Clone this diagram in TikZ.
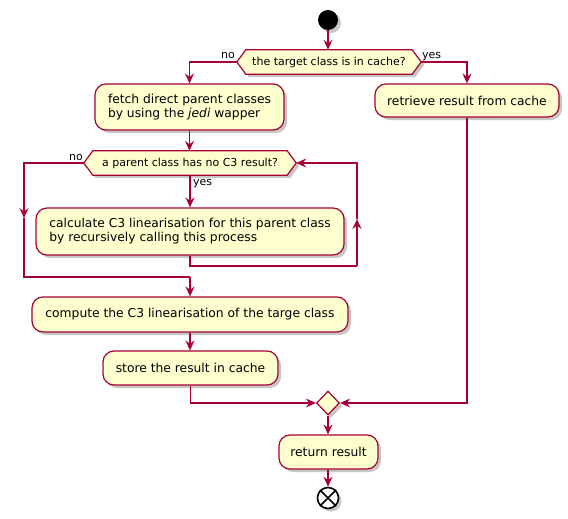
\documentclass[tikz,border=0pt]{standalone}
\usepackage{fontspec}
\setmainfont{DejaVu Sans}[ItalicFont={DejaVu Sans Oblique}]
\usetikzlibrary{arrows.meta,shapes.geometric,shadows,backgrounds}
\definecolor{pline}{HTML}{A80036}
\definecolor{pfill}{HTML}{FEFECE}
\begin{document}
\begin{tikzpicture}[x=1pt,y=-1pt,
  flow/.style={draw=pline, line width=1.2pt},
  arr/.style={flow, -{Stealth[length=10pt,width=9pt,inset=3.5pt]}},
  shad/.style={drop shadow={shadow xshift=3pt, shadow yshift=-3pt, opacity=0.22, fill=black}},
  act/.style={draw=pline, fill=pfill, line width=1.2pt, rounded corners=11pt, inner sep=0pt,
    align=left, font=\fontsize{12.3}{14}\selectfont, shad},
  dect/.style={inner sep=0pt, font=\fontsize{11}{13}\selectfont},
  hexa/.style={draw=pline, fill=pfill, line width=1.2pt,
    preaction={draw=none, fill=black, opacity=0.22, transform canvas={xshift=3pt,yshift=-3pt}}},
  lab/.style={inner sep=0pt, font=\fontsize{11}{13}\selectfont},
]
\useasboundingbox (0,0) rectangle (568,519);

% nodes
\node[circle, fill=black, minimum size=20pt, inner sep=0pt, shad] (start) at (328,20) {};
\node[dect, minimum width=184pt, minimum height=24pt] (dec1) at (329,62) {the target class is in cache?};
\node[act, minimum width=189pt, minimum height=46pt] (fetch) at (189.5,107) {fetch direct parent classes\\by using the \textit{jedi} wapper};
\node[act, minimum width=184pt, minimum height=33pt] (retr) at (467,100.5) {retrieve result from cache};
\node[dect, minimum width=212pt, minimum height=24pt] (dec2) at (190,163) {a parent class has no C3 result?};
\node[act, minimum width=308pt, minimum height=47pt] (calc) at (190,231.5) {calculate C3 linearisation for this parent class\\by recursively calling this process};
\node[act, minimum width=316pt, minimum height=35pt] (comp) at (190,314.5) {compute the C3 linearisation of the targe class};
\node[act, minimum width=175pt, minimum height=34pt] (store) at (190.5,368) {store the result in cache};
\node[diamond, draw=pline, fill=pfill, line width=1.2pt, minimum width=23pt, minimum height=24pt, inner sep=0pt, shad] (merge) at (328,403) {};
\node[act, minimum width=99pt, minimum height=34pt] (ret) at (328.5,452) {return result};
\node[circle, draw=black, fill=white, line width=1.6pt, minimum size=21pt, inner sep=0pt, shad] (end) at (328,498) {};
\draw[line width=1.6pt] (end.45) -- (end.225) (end.135) -- (end.315);

% hexagons
\begin{pgfonlayer}{background}
\foreach \n in {dec1,dec2}{
  \draw[hexa] (\n.west) -- ([xshift=9pt]\n.north west) -- ([xshift=-9pt]\n.north east) -- (\n.east)
    -- ([xshift=-9pt]\n.south east) -- ([xshift=9pt]\n.south west) -- cycle;
}
\end{pgfonlayer}

% labels
\node[lab, anchor=base east] (no1) at (235,58.5) {no};
\node[lab, anchor=base west] (yes1) at (422,58.5) {yes};
\node[lab, anchor=base east] (no2) at (83,160.5) {no};
\node[lab, anchor=base west] (yes2) at (193,185) {yes};

% connectors
\coordinate (lft) at (24,218);
\coordinate (join) at (190,277);
\coordinate (lb) at (357,266);
\coordinate (rmid) at (357,219);

\draw[arr] (start.south) -- (start.south |- dec1.north);
\draw[arr] (dec1.west) -| (fetch.north);
\draw[arr] (dec1.east) -| (retr.north);
\draw[arr] (fetch.south) -- (fetch.south |- dec2.north);
\draw[arr] (dec2.south) -- (calc.north);
\draw[arr] (dec2.west) -| (lft);
\draw[flow] (lft) |- (join);
\draw[arr] (join) -- (comp.north);
\draw[flow] (calc.south) |- (lb);
\draw[arr] (lb) -- (rmid);
\draw[arr] (rmid) |- (dec2.east);
\draw[arr] (comp.south) -- (comp.south |- store.north);
\draw[arr] (store.south) |- (merge.west);
\draw[arr] (retr.south) |- (merge.east);
\draw[arr] (merge.south) -- (merge.south |- ret.north);
\draw[arr] (ret.south -| end.north) -- (end.north);
\end{tikzpicture}
\end{document}
